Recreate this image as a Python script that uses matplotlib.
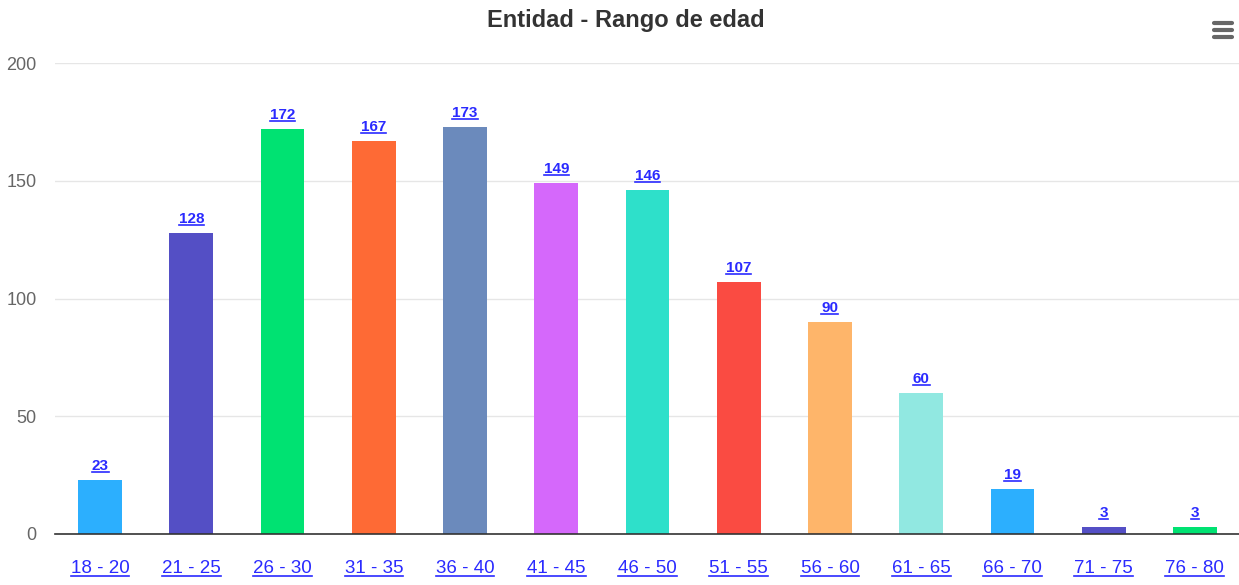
import matplotlib.pyplot as plt

categories = ['18 - 20', '21 - 25', '26 - 30', '31 - 35', '36 - 40', '41 - 45', '46 - 50',
              '51 - 55', '56 - 60', '61 - 65', '66 - 70', '71 - 75', '76 - 80']
values = [23, 128, 172, 167, 173, 149, 146, 107, 90, 60, 19, 3, 3]
palette = ['#2caffe', '#544fc5', '#00e272', '#fe6a35', '#6b8abc', '#d568fb', '#2ee0ca',
           '#fa4b42', '#feb56a', '#91e8e1']
colors = [palette[i % len(palette)] for i in range(len(values))]

plt.rcParams['font.family'] = ['Liberation Sans', 'DejaVu Sans']

fig = plt.figure(figsize=(12.39, 5.85), dpi=100)
ax = fig.add_axes([54.5 / 1239, 1 - 534 / 585, (1240.5 - 54.5) / 1239, (534 - 63) / 585])

x = list(range(len(categories)))
ax.bar(x, values, width=0.48, color=colors, zorder=2)
ax.set_xlim(-0.5, len(categories) - 0.5)
ax.set_ylim(0, 200)
ax.set_yticks([0, 50, 100, 150, 200])
ax.grid(axis='y', color='#e6e6e6', linewidth=1, zorder=0)
for s in ['top', 'right', 'left']:
    ax.spines[s].set_visible(False)
ax.spines['bottom'].set_color('#333333')
ax.spines['bottom'].set_linewidth(1.2)
ax.tick_params(axis='y', length=0, labelsize=13, labelcolor='#666666', pad=13)
ax.tick_params(axis='x', length=0, labelbottom=False)

link = '#2a2aff'
texts = []
for xi, v in zip(x, values):
    texts.append(ax.annotate(str(v), (xi, v), xytext=(0, 5), textcoords='offset points',
                             ha='center', va='bottom', fontsize=11, fontweight='bold', color=link))
for xi, c in zip(x, categories):
    texts.append(ax.annotate(c, (xi, 0), xytext=(0, -25), textcoords='offset points',
                             ha='center', va='center', fontsize=13.5, color=link))

fig.text(0.505, 1 - 20 / 585, 'Entidad - Rango de edad', ha='center', va='center',
         fontsize=17, fontweight='bold', color='#333333')

# underline links
fig.canvas.draw()
r = fig.canvas.get_renderer()
for t in texts:
    bb = t.get_window_extent(r)
    y = bb.y0 + 1
    fig.add_artist(plt.Line2D([bb.x0 / 1239, bb.x1 / 1239], [y / 585, y / 585],
                              color=link, linewidth=1.2))

# menu icon
for yy in [23, 30, 37]:
    fig.add_artist(plt.Line2D([1214 / 1239, 1232 / 1239], [1 - yy / 585] * 2,
                              color='#666666', linewidth=3, solid_capstyle='round'))

fig.savefig('out.png', dpi=100)
